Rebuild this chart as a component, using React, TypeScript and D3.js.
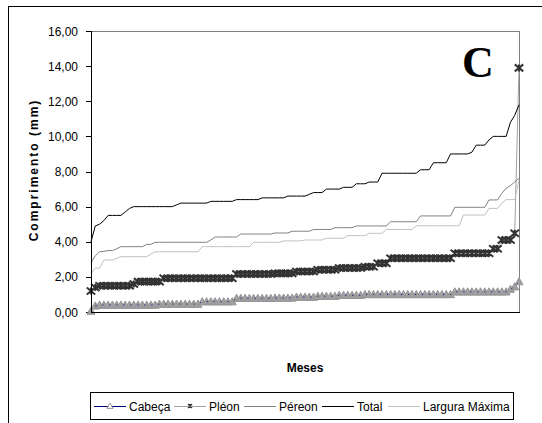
import React from 'react';
import * as d3 from 'd3';

const yTicks = [0, 2, 4, 6, 8, 10, 12, 14, 16];

const cabeca = [
  0.05, 0.35, 0.4, 0.4, 0.4, 0.4, 0.4, 0.4, 0.4, 0.4,
  0.4, 0.4, 0.4, 0.4, 0.4, 0.4, 0.45, 0.45, 0.45, 0.45,
  0.45, 0.45, 0.45, 0.45, 0.45, 0.45, 0.59, 0.59, 0.59, 0.59,
  0.59, 0.59, 0.59, 0.59, 0.78, 0.78, 0.78, 0.78, 0.78, 0.78,
  0.78, 0.78, 0.78, 0.8, 0.8, 0.8, 0.8, 0.8, 0.85, 0.85,
  0.85, 0.85, 0.85, 0.9, 0.9, 0.9, 0.9, 0.9, 0.95, 0.95,
  0.95, 0.95, 0.95, 0.95, 1.0, 1.0, 1.0, 1.0, 1.0, 1.0,
  1.0, 1.0, 1.0, 1.0, 1.0, 1.0, 1.0, 1.0, 1.0, 1.0,
  1.0, 1.0, 1.0, 1.0, 1.0, 1.15, 1.15, 1.15, 1.15, 1.15,
  1.15, 1.15, 1.15, 1.15, 1.15, 1.15, 1.15, 1.15, 1.3, 1.44,
  1.73,
];

const pleon = [
  1.2, 1.4, 1.5, 1.5, 1.5, 1.5, 1.5, 1.5, 1.5, 1.5,
  1.6, 1.73, 1.73, 1.73, 1.73, 1.73, 1.73, 1.92, 1.92, 1.92,
  1.92, 1.92, 1.92, 1.92, 1.92, 1.92, 1.92, 1.92, 1.92, 1.92,
  1.92, 1.92, 1.92, 1.92, 2.16, 2.16, 2.16, 2.16, 2.16, 2.16,
  2.16, 2.16, 2.16, 2.2, 2.2, 2.2, 2.2, 2.2, 2.3, 2.3,
  2.3, 2.3, 2.3, 2.4, 2.4, 2.4, 2.4, 2.4, 2.5, 2.5,
  2.5, 2.5, 2.5, 2.5, 2.58, 2.58, 2.58, 2.77, 2.77, 2.77,
  3.06, 3.06, 3.06, 3.06, 3.06, 3.06, 3.06, 3.06, 3.06, 3.06,
  3.06, 3.06, 3.06, 3.06, 3.06, 3.34, 3.34, 3.34, 3.34, 3.34,
  3.34, 3.34, 3.34, 3.34, 3.6, 3.6, 4.1, 4.1, 4.1, 4.48,
  13.9,
];

const pereon = [
  2.8, 3.2, 3.43, 3.45, 3.5, 3.5, 3.6, 3.72, 3.72, 3.72,
  3.72, 3.72, 3.72, 3.85, 3.85, 3.97, 3.97, 3.97, 3.97, 3.97,
  3.97, 3.97, 3.97, 3.97, 3.97, 3.97, 3.97, 3.97, 4.1, 4.27,
  4.27, 4.27, 4.27, 4.27, 4.27, 4.44, 4.44, 4.44, 4.44, 4.44,
  4.44, 4.44, 4.44, 4.5, 4.5, 4.5, 4.5, 4.6, 4.6, 4.6,
  4.6, 4.6, 4.7, 4.7, 4.7, 4.7, 4.7, 4.8, 4.8, 4.8,
  4.8, 4.8, 4.9, 4.9, 4.9, 4.9, 4.9, 4.9, 4.9, 4.9,
  5.14, 5.14, 5.14, 5.14, 5.14, 5.14, 5.14, 5.47, 5.47, 5.47,
  5.47, 5.47, 5.47, 5.47, 5.47, 5.96, 5.96, 5.96, 5.96, 5.96,
  5.96, 5.96, 5.96, 6.38, 6.38, 6.38, 6.76, 7.05, 7.2, 7.4,
  7.6,
];

const total = [
  4.0, 4.9, 5.0, 5.2, 5.5, 5.5, 5.5, 5.5, 5.7, 5.9,
  6.0, 6.0, 6.0, 6.0, 6.0, 6.0, 6.0, 6.0, 6.0, 6.0,
  6.1, 6.2, 6.2, 6.2, 6.2, 6.2, 6.2, 6.2, 6.3, 6.3,
  6.3, 6.3, 6.3, 6.3, 6.4, 6.4, 6.4, 6.4, 6.4, 6.4,
  6.5, 6.5, 6.5, 6.5, 6.5, 6.5, 6.6, 6.6, 6.6, 6.6,
  6.6, 6.7, 6.8, 6.8, 6.8, 7.0, 7.0, 7.0, 7.0, 7.1,
  7.1, 7.1, 7.3, 7.3, 7.3, 7.4, 7.4, 7.4, 7.9, 7.9,
  7.9, 7.9, 7.9, 7.9, 7.9, 7.9, 7.9, 8.1, 8.1, 8.1,
  8.5, 8.5, 8.5, 8.5, 9.0, 9.0, 9.0, 9.0, 9.0, 9.1,
  9.5, 9.5, 9.5, 9.8, 10.0, 10.0, 10.0, 10.0, 10.8, 11.2,
  11.8,
];

const largura = [
  2.2, 2.5, 2.5, 2.96, 2.96, 2.96, 3.05, 3.15, 3.15, 3.15,
  3.15, 3.15, 3.15, 3.15, 3.3, 3.43, 3.43, 3.43, 3.43, 3.43,
  3.43, 3.43, 3.43, 3.43, 3.43, 3.43, 3.72, 3.72, 3.72, 3.72,
  3.72, 3.72, 3.72, 3.72, 3.72, 3.72, 3.72, 3.72, 3.97, 3.97,
  3.97, 3.97, 3.97, 3.97, 3.97, 4.05, 4.05, 4.05, 4.05, 4.05,
  4.1, 4.1, 4.1, 4.1, 4.1, 4.2, 4.2, 4.2, 4.2, 4.2,
  4.35, 4.35, 4.35, 4.35, 4.35, 4.48, 4.48, 4.48, 4.48, 4.7,
  4.7, 4.7, 4.7, 4.7, 4.7, 4.7, 4.91, 4.91, 4.91, 4.91,
  4.91, 4.91, 4.91, 4.91, 4.91, 4.91, 4.91, 5.52, 5.52, 5.52,
  5.52, 5.52, 5.52, 5.9, 5.9, 5.9, 6.2, 6.4, 6.4, 6.4,
  7.5,
];

const legendNames = ['Cabeça', 'Pléon', 'Péreon', 'Total', 'Largura Máxima'];

const FONT = '"Liberation Sans", Arial, sans-serif';

function tri(cx: number, cy: number, s: number) {
  return `M${cx},${cy - s}L${cx + s},${cy + s * 0.8}L${cx - s},${cy + s * 0.8}Z`;
}
function star(cx: number, cy: number, sx: number, sy: number) {
  return `M${cx - sx},${cy - sy}L${cx + sx},${cy + sy}M${cx + sx},${cy - sy}L${cx - sx},${cy + sy}M${cx},${cy - sy}L${cx},${cy + sy}`;
}

export default function App() {
  const W = 542, H = 423;
  const L = 91, R = 519, T = 31, B = 312;
  const n = total.length;
  const x = d3.scaleLinear().domain([0, n - 1]).range([L, R]);
  const y = d3.scaleLinear().domain([0, 16]).range([B, T]);
  const line = d3.line<number>().x((_, i) => x(i)).y((d) => y(d));
  const fmt = (v: number) => v.toFixed(2).replace('.', ',');

  const colors = ['#000080', '#a0a0a0', '#808080', '#000000', '#c0c0c0'];
  const markers = ['tri', 'star', '', '', ''];
  const textW = [41, 31, 39, 27, 87];
  const lineLen = 32;
  let cur = 94;
  const legendItems = legendNames.map((name, i) => {
    const x0 = cur;
    const x1 = cur + lineLen;
    const tx = x1 + 3;
    cur = tx + textW[i] + 4;
    return { name, x0, x1, tx, color: colors[i], marker: markers[i] };
  });

  return (
    <svg width={W} height={H} style={{ position: 'absolute', left: 0, top: 0, background: '#fff' }}>
      <rect x={0} y={0} width={W} height={H} fill="#fff" />
      <rect x={8.5} y={6.5} width={600} height={600} fill="none" stroke="#000" strokeWidth={1} />
      {/* plot frame */}
      <line x1={L} y1={T + 0.5} x2={R + 0.5} y2={T + 0.5} stroke="#808080" />
      <line x1={R + 0.5} y1={T} x2={R + 0.5} y2={B} stroke="#808080" />
      {/* y ticks */}
      {yTicks.map((t) => (
        <g key={t}>
          <line x1={L - 5} x2={L} y1={Math.round(y(t)) + 0.5} y2={Math.round(y(t)) + 0.5} stroke="#000" />
          <text x={L - 13} y={y(t) + 4.5} textAnchor="end" fontFamily={FONT} fontSize={12} fill="#000">
            {fmt(t)}
          </text>
        </g>
      ))}
      {/* Cabeça */}
      <g>
        {cabeca.map((v, i) => (
          <path key={i} d={tri(x(i), y(v), 4)} fill="#a0a0a0" stroke="#959595" strokeWidth={1} />
        ))}
        <path d={line(cabeca) || ''} fill="none" stroke="#000080" strokeWidth={1} strokeDasharray="1,6" />
      </g>
      {/* Pléon */}
      <g>
        <path d={line(pleon) || ''} fill="none" stroke="#a0a0a0" strokeWidth={1} />
        {pleon.map((v, i) => (
          <path key={i} d={star(x(i), y(v), 4.2, 3.5)} fill="none" stroke="#333" strokeWidth={2} />
        ))}
      </g>
      <path d={line(pereon) || ''} fill="none" stroke="#808080" strokeWidth={1} />
      <path d={line(total) || ''} fill="none" stroke="#000" strokeWidth={1} />
      <path d={line(largura) || ''} fill="none" stroke="#c0c0c0" strokeWidth={1} />
      {/* axes */}
      <line x1={L + 0.5} y1={T} x2={L + 0.5} y2={B + 0.5} stroke="#000" />
      <line x1={L} y1={B + 0.5} x2={R + 1} y2={B + 0.5} stroke="#000" />
      {/* C */}
      <text x={462} y={77} fontFamily='"Liberation Serif", "Times New Roman", serif' fontWeight="bold" fontSize={44}>
        C
      </text>
      {/* axis titles */}
      <text
        transform={`translate(38,170) rotate(-90)`}
        textAnchor="middle"
        fontFamily={FONT}
        fontWeight="bold"
        fontSize={12}
        letterSpacing={2}
      >
        Comprimento (mm)
      </text>
      <text x={305} y={372} textAnchor="middle" fontFamily={FONT} fontWeight="bold" fontSize={12}>
        Meses
      </text>
      {/* legend */}
      <rect x={90.5} y={392.5} width={423} height={27} fill="#fff" stroke="#000" />
      {legendItems.map((it) => (
        <g key={it.name}>
          <line x1={it.x0} x2={it.x1} y1={406.5} y2={406.5} stroke={it.color} strokeWidth={1} />
          {it.marker === 'tri' && (
            <path d={tri((it.x0 + it.x1) / 2, 406, 3)} fill="#fff" stroke="#999" />
          )}
          {it.marker === 'star' && (
            <path d={star((it.x0 + it.x1) / 2, 406, 2, 2)} fill="none" stroke="#333" strokeWidth={1.4} />
          )}
          <text x={it.tx} y={410.5} fontFamily={FONT} fontSize={12} fill="#000">
            {it.name}
          </text>
        </g>
      ))}
    </svg>
  );
}
